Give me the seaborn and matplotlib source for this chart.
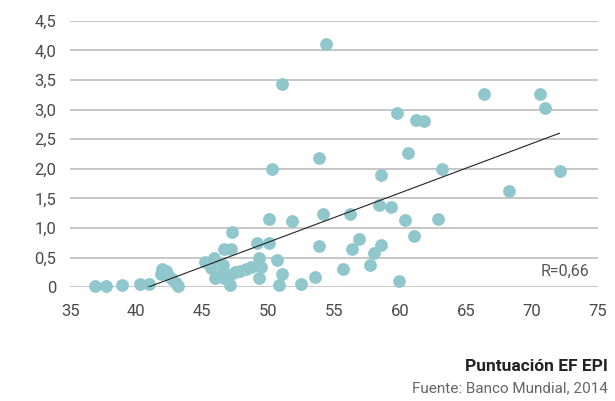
import pandas as pd
import matplotlib.pyplot as plt
from matplotlib.ticker import FuncFormatter
import seaborn as sns

# puntuacion EF EPI (x) y valor del eje vertical (y)
epi_score = [36.9, 37.7, 38.9, 40.3, 41.0, 41.9, 42.0, 42.3, 42.4, 42.7,
             43.0, 43.2, 45.2, 45.9, 45.7, 46.0, 46.6, 46.6, 46.7, 47.2,
             47.3, 47.1, 46.7, 47.1, 47.5, 47.9, 48.3, 48.7, 49.2, 50.1,
             50.1, 51.8, 49.3, 49.5, 49.3, 50.7, 51.1, 50.8, 52.5, 53.6,
             53.9, 54.2, 55.7, 56.4, 56.2, 56.9, 57.7, 58.0, 58.6, 58.4,
             59.3, 59.9, 60.4, 61.1, 54.4, 51.1, 59.8, 61.2, 61.8, 50.3,
             53.9, 60.6, 58.6, 63.2, 66.4, 70.6, 71.0, 72.1, 68.3, 62.9]
valor = [0.02, 0.02, 0.04, 0.05, 0.05, 0.23, 0.30, 0.27, 0.20, 0.13,
         0.07, 0.02, 0.43, 0.50, 0.32, 0.15, 0.38, 0.25, 0.65, 0.65,
         0.93, 0.03, 0.15, 0.20, 0.25, 0.28, 0.31, 0.34, 0.74, 0.75,
         1.15, 1.12, 0.49, 0.34, 0.15, 0.46, 0.23, 0.03, 0.05, 0.17,
         0.69, 1.23, 0.30, 0.64, 1.23, 0.81, 0.37, 0.57, 0.71, 1.38,
         1.35, 0.10, 1.13, 0.86, 4.11, 3.44, 2.95, 2.83, 2.80, 1.99,
         2.19, 2.26, 1.89, 1.99, 3.27, 3.27, 3.02, 1.96, 1.62, 1.15]

x_ticks = [35, 40, 45, 50, 55, 60, 65, 70, 75]
y_ticks = [0, 0.5, 1.0, 1.5, 2.0, 2.5, 3.0, 3.5, 4.0, 4.5]

df = pd.DataFrame({"epi": epi_score, "valor": valor})

sns.set_style("white")
plt.rcParams['font.family'] = ['Roboto', 'DejaVu Sans']

fig = plt.figure(figsize=(6.15, 4.01), dpi=100)
ax = fig.add_axes([0.114, 0.284, 0.858, 0.664])

sns.regplot(data=df, x="epi", y="valor", ax=ax, ci=None, truncate=True,
            scatter_kws=dict(s=85, color="#90c7cd", alpha=1, linewidths=0, clip_on=False, zorder=3),
            line_kws=dict(color="#222222", lw=0.8, zorder=4))

ax.set_xlim(35, 75)
ax.set_ylim(0, 4.5)
ax.set_xticks(x_ticks)
ax.set_yticks(y_ticks)
ax.yaxis.set_major_formatter(FuncFormatter(lambda v, p: "0" if v == 0 else f"{v:.1f}".replace(".", ",")))
ax.tick_params(length=0, labelsize=12, colors="#4a4a4a")
ax.tick_params(axis="x", pad=12)
ax.tick_params(axis="y", pad=10)
ax.set_xlabel("")
ax.set_ylabel("")
ax.grid(axis="y", color="#bdbdbd", lw=1.2)
ax.set_axisbelow(True)
for s in ax.spines.values():
    s.set_visible(False)

ax.text(0.985, 0.06, "R=0,66", transform=ax.transAxes, ha="right", va="center",
        fontsize=11.5, color="#555555")

fig.text(0.988, 0.087, "Puntuación EF EPI", ha="right", va="center",
         fontsize=12.5, fontweight="bold", color="#222222")
fig.text(0.988, 0.032, "Fuente: Banco Mundial, 2014", ha="right", va="center",
         fontsize=11, color="#666666")

plt.savefig("out.png", dpi=100)
